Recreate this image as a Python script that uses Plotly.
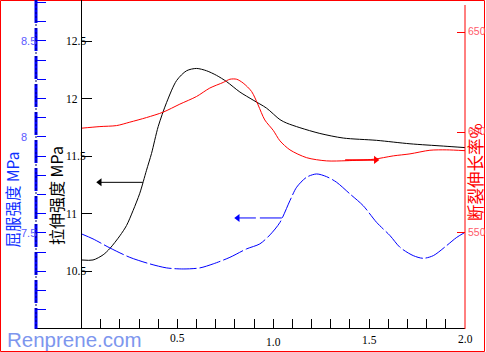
import plotly.graph_objects as go

# ---------------- data ----------------
x_tensile = [0, 0.06, 0.113, 0.148, 0.2, 0.235, 0.269, 0.304, 0.339, 0.365, 0.40, 0.444, 0.496,
             0.548, 0.60, 0.652, 0.704, 0.757, 0.826, 0.895, 0.965, 1.035, 1.07, 1.139, 1.243,
             1.365, 1.539, 1.713, 1.887, 2.0]
y_tensile = [10.60, 10.60, 10.645, 10.70, 10.81, 10.90, 11.03, 11.18, 11.38, 11.525, 11.76, 11.97,
             12.16, 12.245, 12.265, 12.245, 12.205, 12.15, 12.06, 11.99, 11.92, 11.82, 11.79, 11.75,
             11.70, 11.66, 11.64, 11.61, 11.59, 11.577]

x_elong = [0, 0.096, 0.183, 0.252, 0.339, 0.426, 0.513, 0.60, 0.669, 0.739, 0.774, 0.809, 0.843,
           0.887, 0.921, 0.956, 1.0, 1.035, 1.087, 1.174, 1.278, 1.383, 1.522, 1.626, 1.713, 1.817,
           1.904, 2.0]
y_elong = [602.1, 602.9, 603.4, 605.1, 607.4, 610.1, 614.1, 617.9, 622.1, 624.9, 626.5, 626.5, 624.6,
           620.4, 613.7, 606.2, 601.0, 595.8, 591.3, 587.4, 585.8, 585.9, 586.6, 588.3, 589.3, 591.1,
           591.3, 590.9]

x_yield = [0, 0.06, 0.148, 0.252, 0.356, 0.444, 0.53, 0.617, 0.687, 0.774, 0.861, 0.93, 0.983, 1.035,
           1.087, 1.122, 1.174, 1.226, 1.278, 1.33, 1.40, 1.469, 1.539, 1.609, 1.661, 1.73, 1.782,
           1.835, 1.904, 1.957, 2.0]
y_yield = [7.495, 7.469, 7.422, 7.373, 7.339, 7.318, 7.3125, 7.318, 7.339, 7.373, 7.417, 7.443, 7.49,
           7.555, 7.668, 7.738, 7.79, 7.807, 7.793, 7.764, 7.703, 7.642, 7.555, 7.486, 7.425, 7.382,
           7.368, 7.382, 7.434, 7.477, 7.503]

# arrows (tail -> tip)
arrow_tensile_x = [0.32, 0.095]
arrow_tensile_y = [11.275, 11.275]
arrow_yield_x = [1.045, 0.815]
arrow_yield_y = [7.578, 7.578]
arrow_elong_x = [1.375, 1.535]
arrow_elong_y = [586.3, 586.3]

x_minor_ticks = [round(0.1 * i, 1) for i in range(1, 20)]
x_label_vals = [0.5, 1.0, 1.5, 2.0]
x_label_text = ["0.5", "1.0", "1.5", "2.0"]

tensile_ticks = [10.5, 11.0, 11.5, 12.0, 12.5]
tensile_text = ["10.5", "11", "11.5", "12", "12.5"]
yield_minor_ticks = [round(7.1 + 0.1 * i, 1) for i in range(17)]
yield_label_vals = [7.5, 8.0, 8.5]
yield_label_text = ["7.5", "8", "8.5"]
elong_ticks = [550, 600, 650]
elong_text = ["550", "600", "650"]

title_tensile = "拉伸强度 MPa"
title_yield = "屈服强度 MPa"
title_elong = "断裂伸长率%"
watermark = "Renprene.com"

# ---------------- geometry helpers ----------------
W, H = 486, 352
B = 23
PH = H - B


def px(x):
    return x / W


def py(y):
    return (PH - y) / PH


X_LEFT, X_RIGHT, X_BLUE = 81.5, 465.0, 36.0
BLUE = "#0000ff"
RED = "#ff0000"

fig = go.Figure()

fig.add_trace(go.Scatter(x=x_tensile, y=y_tensile, mode="lines", yaxis="y",
                         line=dict(color="black", width=1, shape="spline", smoothing=0.8),
                         hoverinfo="skip"))
fig.add_trace(go.Scatter(x=x_elong, y=y_elong, mode="lines", yaxis="y2",
                         line=dict(color=RED, width=1, shape="spline", smoothing=0.8),
                         hoverinfo="skip"))
fig.add_trace(go.Scatter(x=x_yield, y=y_yield, mode="lines", yaxis="y3",
                         line=dict(color=BLUE, width=1, shape="spline", smoothing=0.8,
                                   dash="22px,3px"),
                         hoverinfo="skip"))

# arrows
for ax_x, ax_y, yax, col, dash, w in [
    (arrow_tensile_x, arrow_tensile_y, "y", "black", "solid", 1),
    (arrow_yield_x, arrow_yield_y, "y3", BLUE, "22px,4px", 1),
    (arrow_elong_x, arrow_elong_y, "y2", RED, "solid", 1.5),
]:
    sym = "triangle-left" if ax_x[1] < ax_x[0] else "triangle-right"
    fig.add_trace(go.Scatter(x=ax_x, y=ax_y, mode="lines", yaxis=yax,
                             line=dict(color=col, width=w, dash=dash), hoverinfo="skip"))
    fig.add_trace(go.Scatter(x=[ax_x[1]], y=[ax_y[1]], mode="markers", yaxis=yax,
                             marker=dict(symbol=sym, size=7, color=col, line=dict(width=0)),
                             hoverinfo="skip"))

common = dict(showgrid=False, zeroline=False, showline=False, automargin=False, fixedrange=True)

fig.update_layout(
    width=W, height=H,
    margin=dict(l=0, r=0, t=0, b=B, pad=0),
    paper_bgcolor="white", plot_bgcolor="rgba(0,0,0,0)",
    showlegend=False,
    xaxis=dict(domain=[px(X_LEFT), px(X_RIGHT)], range=[0, 2], tickmode="array",
               tickvals=x_minor_ticks, ticks="inside", ticklen=10, tickcolor="black", tickwidth=1,
               showticklabels=False, **common),
    yaxis=dict(range=[10.0, 12.86], anchor="x", side="left", tickmode="array",
               tickvals=tensile_ticks, ticks="inside", ticklen=10, tickcolor="black", tickwidth=1,
               showticklabels=False, **common),
    yaxis2=dict(range=[502, 666], anchor="x", side="right", overlaying="y", tickmode="array",
                tickvals=elong_ticks, ticks="inside", ticklen=8, tickcolor=RED, tickwidth=1,
                showticklabels=False, **common),
    yaxis3=dict(range=[7.0, 8.7125], anchor="free", position=px(X_BLUE), side="left",
                overlaying="y", tickmode="array", tickvals=yield_minor_ticks, ticks="inside",
                ticklen=9, tickcolor=BLUE, tickwidth=1, showticklabels=False, **common),
)

shapes = [
    # outer red frame
    dict(type="rect", xref="paper", yref="paper", x0=px(0.5), x1=px(484.5), y0=py(351.5), y1=py(0.5),
         line=dict(color=RED, width=1)),
    # bottom line
    dict(type="line", xref="paper", yref="paper", x0=px(X_BLUE), x1=px(X_RIGHT), y0=py(328.5), y1=py(328.5),
         line=dict(color="black", width=1)),
    # black axis
    dict(type="line", xref="paper", yref="paper", x0=px(X_LEFT), x1=px(X_LEFT), y0=py(0), y1=py(329),
         line=dict(color="black", width=1)),
    # red axis
    dict(type="line", xref="paper", yref="paper", x0=px(X_RIGHT), x1=px(X_RIGHT), y0=py(5), y1=py(329),
         line=dict(color=RED, width=1)),
    # blue dashed axis
    dict(type="line", xref="paper", yref="paper", x0=px(X_BLUE), x1=px(X_BLUE), y0=py(0), y1=py(329),
         line=dict(color=BLUE, width=3, dash="23px,5px")),
    dict(type="line", xref="paper", yref="paper", x0=px(X_BLUE), x1=px(X_BLUE), y0=py(0), y1=py(329),
         line=dict(color="#000066", width=1, dash="2px,2px")),
]
fig.update_layout(shapes=shapes)

ann = []
label_font = dict(family="Liberation Serif", size=11.5, color="black")
x_label_shift = [-2, 2, 0, -1]
for v, t, s in zip(x_label_vals, x_label_text, x_label_shift):
    ann.append(dict(x=v, y=py(340 + s), xref="x", yref="paper", text=t, showarrow=False,
                    xanchor="center", yanchor="middle", font=label_font))
for v, t in zip(tensile_ticks, tensile_text):
    ann.append(dict(x=px(64), y=v, xref="paper", yref="y", text=t, showarrow=False,
                    xanchor="left", yanchor="middle", font=label_font))
for v, t in zip(yield_label_vals, yield_label_text):
    ann.append(dict(x=px(19), y=v, xref="paper", yref="y3", text=t, showarrow=False,
                    xanchor="left", yanchor="middle",
                    font=dict(family="Liberation Sans", size=11, color="#5a5aff")))
for v, t in zip(elong_ticks, elong_text):
    ann.append(dict(x=px(466), y=v, xref="paper", yref="y2", text=t, showarrow=False,
                    xanchor="left", yanchor="middle", yshift=1,
                    font=dict(family="Liberation Sans", size=10.5, color="#ff5a6a")))

cjk = "Noto Sans CJK SC"
ann.append(dict(x=px(56), y=py(196), xref="paper", yref="paper", text=title_tensile, textangle=-90,
                showarrow=False, xanchor="center", yanchor="middle",
                font=dict(family=cjk, size=16, color="black")))
ann.append(dict(x=px(11.5), y=py(200), xref="paper", yref="paper", text=title_yield, textangle=-90,
                showarrow=False, xanchor="center", yanchor="middle",
                font=dict(family=cjk, size=15.5, color="#1030ff")))
ann.append(dict(x=px(475), y=py(172), xref="paper", yref="paper", text=title_elong, textangle=-90,
                showarrow=False, xanchor="center", yanchor="middle",
                font=dict(family=cjk, size=16.5, color=RED)))
ann.append(dict(x=px(5), y=py(339), xref="paper", yref="paper", text=watermark, showarrow=False,
                xanchor="left", yanchor="middle",
                font=dict(family="Liberation Sans", size=20.5, color="#7d96ee")))
fig.update_layout(annotations=ann)

fig.write_html("out.html", config={"displayModeBar": False})
